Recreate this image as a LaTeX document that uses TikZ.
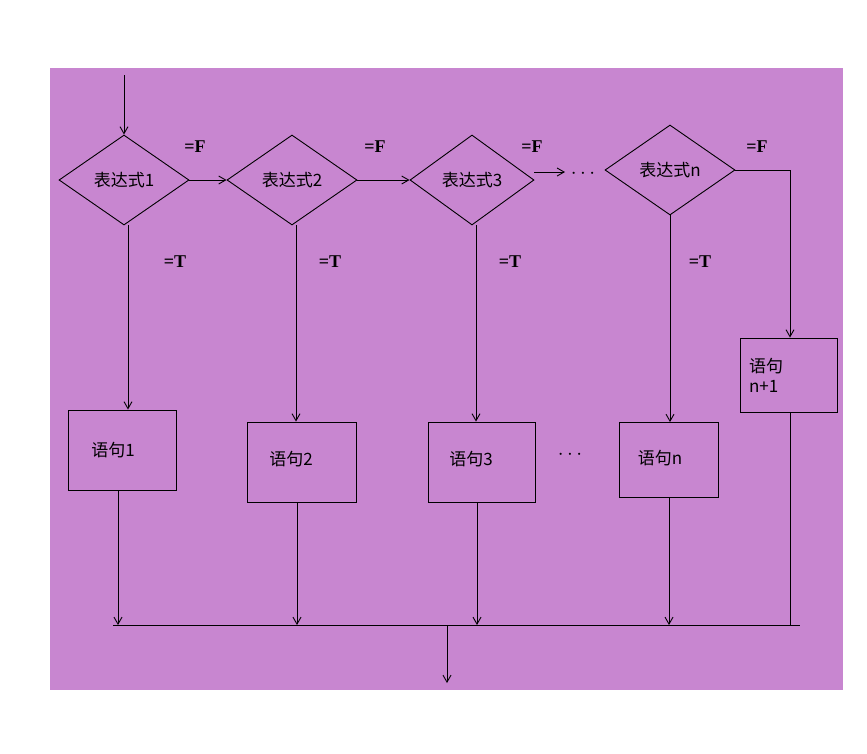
\documentclass[tikz,border=0pt]{standalone}
\usepackage{fontspec}
\newfontfamily\cjk{Noto Sans CJK SC}
\setmainfont{Liberation Serif}
\usetikzlibrary{shapes.geometric,arrows.meta}
\definecolor{bg}{RGB}{200,134,208}
\tikzset{
 dia/.style={diamond,draw,minimum width=130pt,minimum height=90pt,inner sep=0pt,font=\cjk\fontsize{17}{17}\selectfont},
 box/.style={draw,minimum width=108pt,minimum height=80pt,font=\cjk\fontsize{17}{20}\selectfont},
 lab/.style={font=\bfseries\fontsize{18}{18}\selectfont},
 arr/.style={-{Straight Barb[length=7pt,width=8pt]},line width=0.9pt},
 ln/.style={line width=0.9pt}
}
\begin{document}
\begin{tikzpicture}[x=1pt,y=-1pt,line width=0.9pt]
\useasboundingbox (0,0) rectangle (867,753);
\fill[white] (0,0) rectangle (867,753);
\fill[bg] (50,68) rectangle (843,690);
\node[dia] (d1) at (124,180) {表达式1};
\node[dia] (d2) at (292,180) {表达式2};
\node[dia,minimum width=124pt] (d3) at (472,180) {表达式3};
\node[dia] (dn) at (670,170) {表达式n};
\node[box] (b1) at (122,450) {\hspace*{-18pt}语句1};
\node[box,minimum width=109pt] (b2) at (302,462) {\raisebox{8pt}{\hspace*{-22pt}语句2}};
\node[box,minimum width=107pt] (b3) at (482,462) {\raisebox{8pt}{\hspace*{-22pt}语句3}};
\node[box,minimum width=99pt,minimum height=75pt] (bn) at (669,460) {\raisebox{6pt}{\hspace*{-18pt}语句n}};
\node[box,minimum width=97pt,minimum height=74pt,text width=80pt,align=left] (bn1) at (789,375) {语句\\n+1};
\coordinate (top) at (124,75);
\draw[arr] (top) -- (d1.north);
\draw[arr] (d1.east) -- (d2.west);
\draw[arr] (d2.east) -- (d3.west);
\coordinate (c3) at (565,172);
\draw[arr] (d3.east |- c3) -- (c3);
\node[font=\fontsize{20}{20}\selectfont] (dots1) at (583,174) {$\cdots$};
\coordinate (cr) at (790,170);
\draw[ln] (dn.east) -- (cr);
\draw[arr] (cr) -- (bn1.north -| cr);
\foreach \d/\b/\x in {d1/b1/128,d2/b2/296,d3/b3/476,dn/bn/670}
  \draw[arr] (\x,0 |- \d.south) -- (\x,0 |- \b.north);
\node[font=\fontsize{20}{20}\selectfont] (dots2) at (570,455) {$\cdots$};
\coordinate (L) at (113,625);
\coordinate (R) at (800,625);
\draw[ln] (L) -- (R);
\foreach \b/\x in {b1/118,b2/297,b3/477,bn/669}
  \draw[arr] (\x,0 |- \b.south) -- (\x,625);
\draw[ln] (790,0 |- bn1.south) -- (790,625);
\coordinate (out) at (447,683);
\draw[arr] (447,625) -- (out);
\foreach \x/\y/\t in {195/147/=F,375/147/=F,532/147/=F,757/147/=F,175/262/=T,330/262/=T,510/262/=T,700/262/=T}
  \node[lab] at (\x,\y) {\t};
\end{tikzpicture}
\end{document}
